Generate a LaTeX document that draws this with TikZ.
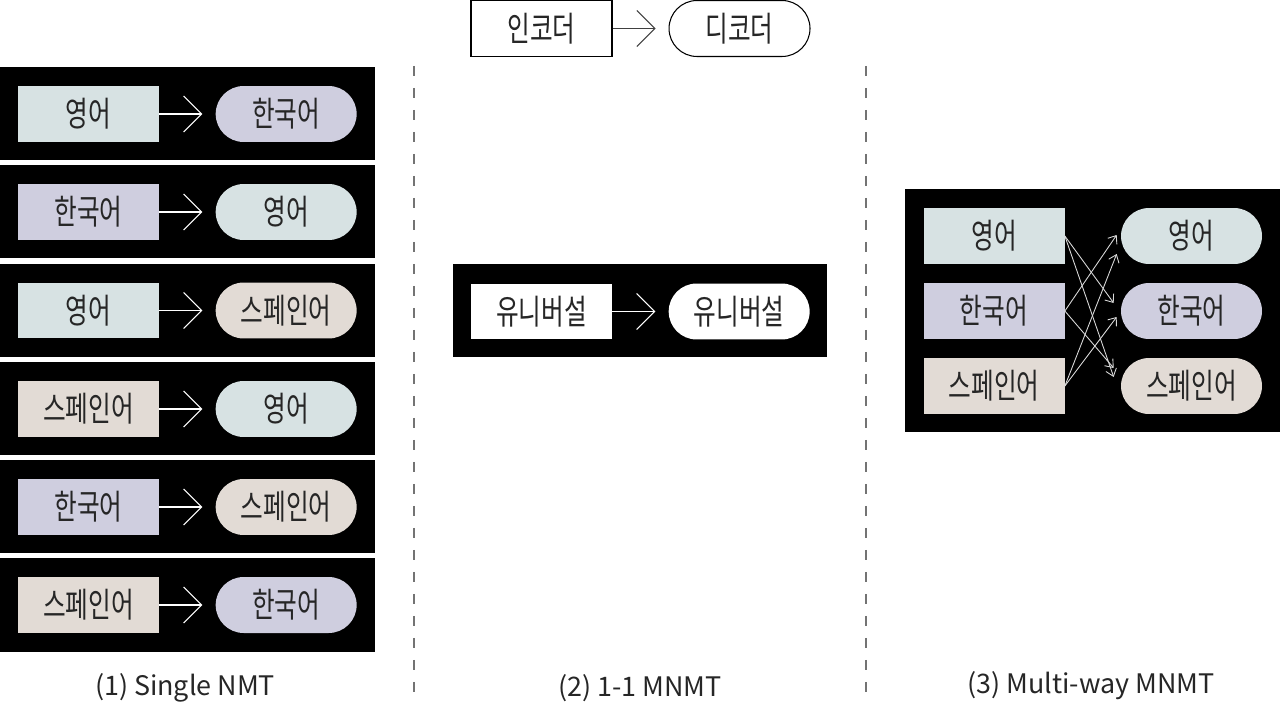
\documentclass[tikz,border=0pt]{standalone}
\usepackage{fontspec}
\setmainfont{Noto Sans CJK KR}
\newfontfamily\krfont[FakeStretch=0.72]{Noto Sans CJK KR}
\usepackage{tikz}
\usetikzlibrary{arrows.meta,positioning}

\definecolor{engc}{HTML}{D7E2E3}
\definecolor{korc}{HTML}{CFCEDF}
\definecolor{spac}{HTML}{E2DBD5}

\begin{document}
\begin{tikzpicture}[x=0.02cm, y=-0.02cm,
  enc/.style={rectangle, minimum width=2.82cm, minimum height=1.12cm, inner sep=0pt,
    font=\krfont\fontsize{19.5}{22}\selectfont, text=black!85},
  dec/.style={enc, rounded corners=0.56cm},
  trans/.style={-{Straight Barb[length=0.36cm,width=0.72cm]}, line width=0.6pt, shorten >=0.26cm},
  multi/.style={-{Straight Barb[length=0.14cm,width=0.22cm]}, line width=0.5pt, draw=white!85!black},
  sep/.style={draw=black!55, line width=0.8pt, dash pattern=on 0.2cm off 0.24cm},
  caption/.style={font=\fontsize{15.3}{18}\selectfont, text=black!85}]
  \useasboundingbox (0,0) rectangle (1280,719);

  % separators
  \draw [sep] (414,66) -- (414,700);
  \draw [sep] (866,66) -- (866,700);

  % legend
  \node (le) [enc, draw=black, line width=0.6pt, fill=white] at (541.5,28.5) {인코더};
  \node (ld) [dec, draw=black, line width=0.6pt, right=1.12cm of le] {디코더};
  \draw [trans, black!75] (le) -- (ld);

  % (1) single NMT
  \fill [black] (0,67) rectangle (375,160);
  \fill [black] (0,165) rectangle (375,258);
  \fill [black] (0,264) rectangle (375,357);
  \fill [black] (0,362) rectangle (375,455);
  \fill [black] (0,460) rectangle (375,553);
  \fill [black] (0,558) rectangle (375,652);

  \node (a1) [enc, fill=engc] at (88.5,114) {영어};
  \node (b1) [dec, fill=korc, right=1.12cm of a1] {한국어};
  \node (a2) [enc, fill=korc] at (88.5,212) {한국어};
  \node (b2) [dec, fill=engc, right=1.12cm of a2] {영어};
  \node (a3) [enc, fill=engc] at (88.5,310.5) {영어};
  \node (b3) [dec, fill=spac, right=1.12cm of a3] {스페인어};
  \node (a4) [enc, fill=spac] at (88.5,409) {스페인어};
  \node (b4) [dec, fill=engc, right=1.12cm of a4] {영어};
  \node (a5) [enc, fill=korc] at (88.5,507) {한국어};
  \node (b5) [dec, fill=spac, right=1.12cm of a5] {스페인어};
  \node (a6) [enc, fill=spac] at (88.5,605) {스페인어};
  \node (b6) [dec, fill=korc, right=1.12cm of a6] {한국어};

  \path [trans, draw=white]
  (a1) edge (b1)
  (a2) edge (b2)
  (a3) edge (b3)
  (a4) edge (b4)
  (a5) edge (b5)
  (a6) edge (b6);

  \node (c1) [caption] at (185,688) {(1) Single NMT};

  % (2) 1-1 MNMT
  \fill [black] (453,264) rectangle (827,357);
  \node (ue) [enc, fill=white] at (541.5,311.5) {유니버설};
  \node (ud) [dec, fill=white, right=1.12cm of ue] {유니버설};
  \draw [trans, white] (ue) -- (ud);

  \node (c2) [caption] at (640,688) {(2) 1-1 MNMT};

  % (3) multi-way MNMT
  \fill [black] (905,189) rectangle (1280,432);
  \node (m1) [enc, fill=engc] at (994,236) {영어};
  \node (m2) [enc, fill=korc] at (994,311) {한국어};
  \node (m3) [enc, fill=spac] at (994,386) {스페인어};
  \node (n1) [dec, fill=engc] at (1191.5,236) {영어};
  \node (n2) [dec, fill=korc] at (1191.5,311) {한국어};
  \node (n3) [dec, fill=spac] at (1191.5,386) {스페인어};

  \draw [multi] (m1.east) -- ([xshift=-0.14cm, yshift=0.16cm]n2.west);
  \draw [multi] (m1.east) -- ([xshift=-0.14cm, yshift=0.18cm]n3.west);
  \draw [multi] (m2.east) -- ([xshift=-0.08cm, yshift=0.02cm]n1.west);
  \draw [multi] (m2.east) -- ([xshift=-0.14cm, yshift=0.36cm]n3.west);
  \draw [multi] (m3.east) -- ([xshift=-0.08cm, yshift=-0.36cm]n1.west);
  \draw [multi] (m3.east) -- ([xshift=-0.08cm, yshift=-0.12cm]n2.west);

  \node (c3) [caption] at (1091,686) {(3) Multi-way MNMT};
\end{tikzpicture}
\end{document}
